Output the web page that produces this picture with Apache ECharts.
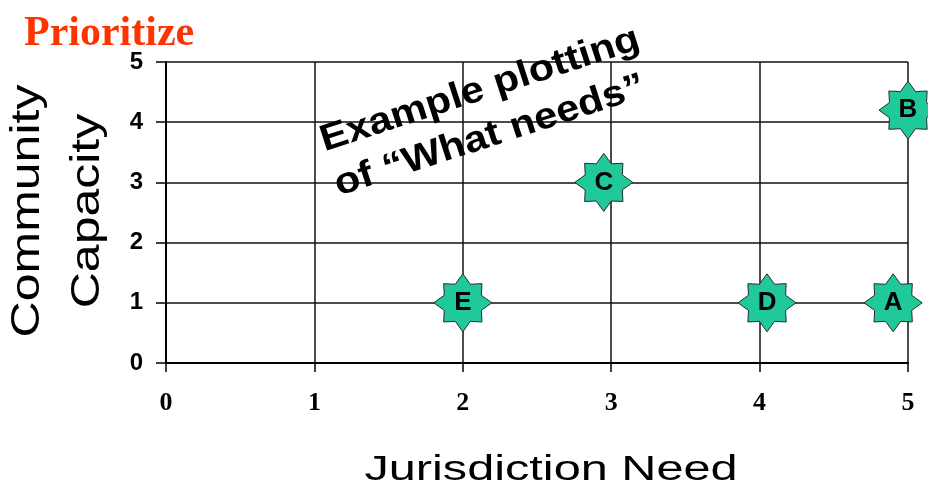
<!DOCTYPE html>
<html>
<head>
<meta charset="utf-8">
<script src="https://cdn.jsdelivr.net/npm/echarts@6/dist/echarts.min.js"></script>
<style>
html,body{margin:0;padding:0;background:#fff;}
#chart{width:928px;height:489px;}
</style>
</head>
<body>
<div id="chart"></div>
<script>
const pointNames = ['A', 'B', 'C', 'D', 'E'];
const jurisdictionNeed = [4.9, 5, 2.95, 4.05, 2];
const communityCapacity = [1, 4.2, 3, 1, 1];
const titleText = 'Prioritize';
const xAxisTitle = 'Jurisdiction Need';
const yAxisTitleLines = ['Community', 'Capacity'];
const noteLines = ['Example plotting', 'of \u201CWhat needs\u201D'];

const starPath = 'path://M50 0 L63 18 L83 17 L82 37 L100 50 L82 63 L83 83 L63 82 L50 100 L37 82 L17 83 L18 63 L0 50 L18 37 L17 17 L37 18 Z';

const points = pointNames.map((n, i) => ({ name: n, value: [jurisdictionNeed[i], communityCapacity[i]] }));

const chart = echarts.init(document.getElementById('chart'), null, { renderer: 'canvas' });
const rot = 18 * Math.PI / 180;
chart.setOption({
  backgroundColor: '#ffffff',
  animation: false,
  title: {
    text: titleText,
    left: 19,
    top: 8,
    textStyle: { fontFamily: '"Liberation Serif", "Times New Roman", serif', fontWeight: 'bold', fontSize: 42, color: '#ff3300' }
  },
  grid: { left: 166, right: 20, top: 62, bottom: 126, containLabel: false, outerBoundsMode: 'none' },
  xAxis: {
    type: 'value', min: 0, max: 5, interval: 1,
    axisLine: { show: true, lineStyle: { color: '#000', width: 2 } },
    axisTick: { show: true, length: 9, lineStyle: { color: '#000', width: 1.5 } },
    axisLabel: { margin: 27, fontFamily: '"Liberation Serif", "Times New Roman", serif', fontWeight: 'bold', fontSize: 26, color: '#000' },
    splitLine: { show: true, lineStyle: { color: '#111', width: 1.5 } }
  },
  yAxis: {
    type: 'value', min: 0, max: 5, interval: 1,
    axisLine: { show: true, lineStyle: { color: '#000', width: 2 } },
    axisTick: { show: true, length: 10, lineStyle: { color: '#000', width: 1.5 } },
    axisLabel: { margin: 23, fontFamily: '"Liberation Sans", Arial, sans-serif', fontWeight: 'bold', fontSize: 24, color: '#000' },
    splitLine: { show: true, lineStyle: { color: '#111', width: 1.5 } }
  },
  series: [{
    type: 'scatter',
    data: points,
    clip: false,
    symbol: starPath,
    symbolSize: 58,
    itemStyle: { color: '#1fc99a', opacity: 1, borderColor: '#2a2a2a', borderWidth: 1 },
    label: {
      show: true, position: 'inside',
      formatter: p => p.name,
      fontFamily: '"Liberation Sans", Arial, sans-serif', fontWeight: 'bold', fontSize: 26, color: '#000'
    },
    z: 5
  }],
  graphic: [
    { type: 'text', x: 28, y: 211, rotation: Math.PI / 2, scaleX: 1.25,
      style: { text: yAxisTitleLines[0], align: 'center', verticalAlign: 'middle', fill: '#000', font: '40px "Liberation Sans", Arial, sans-serif' } },
    { type: 'text', x: 88, y: 211, rotation: Math.PI / 2, scaleX: 1.25,
      style: { text: yAxisTitleLines[1], align: 'center', verticalAlign: 'middle', fill: '#000', font: '40px "Liberation Sans", Arial, sans-serif' } },
    { type: 'text', x: 551, y: 470, scaleX: 1.39,
      style: { text: xAxisTitle, align: 'center', verticalAlign: 'middle', fill: '#000', font: '35px "Liberation Sans", Arial, sans-serif' } },
    { type: 'text', x: 480, y: 90, rotation: rot, scaleX: 1.12, z: 10,
      style: { text: noteLines[0], align: 'center', verticalAlign: 'middle', fill: '#000', font: 'bold 37px "Liberation Sans", Arial, sans-serif' } },
    { type: 'text', x: 490, y: 136, rotation: rot, scaleX: 1.12, z: 10,
      style: { text: noteLines[1], align: 'center', verticalAlign: 'middle', fill: '#000', font: 'bold 37px "Liberation Sans", Arial, sans-serif' } }
  ]
});
</script>
</body>
</html>
